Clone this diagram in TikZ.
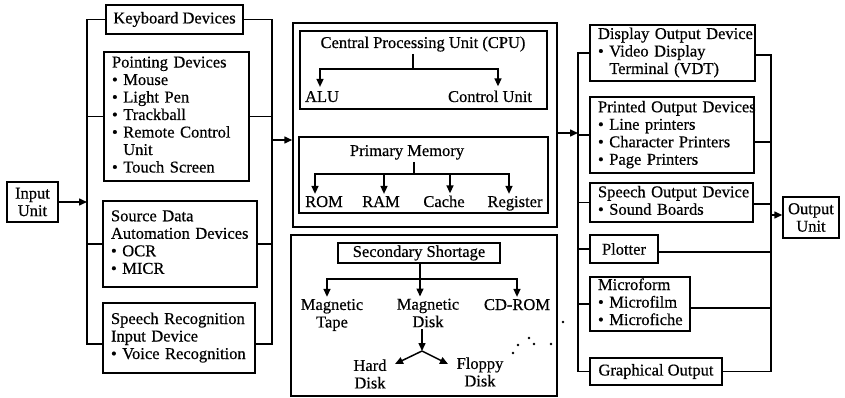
\documentclass[tikz,border=0pt]{standalone}
\usepackage{fontspec}
\setmainfont{Liberation Serif}[FakeBold=0.5]
\usetikzlibrary{arrows.meta}
% left-aligned block of lines that never wraps
\newcommand{\stack}[1]{\noindent\begin{tabular}{@{}l@{}}#1\end{tabular}}
\begin{document}
\begin{tikzpicture}[x=1pt,y=-1pt,
  every node/.style={font=\fontsize{16.5}{17.5}\selectfont},
  wire/.style={line width=1.5pt},
  arr/.style={wire,-{Triangle[length=8pt,width=7pt]}},
  box/.style={draw,line width=1.5pt,inner sep=0pt},
  lbox/.style={box,align=left,inner xsep=8pt},
  lab/.style={inner sep=2pt},
  dot/.style={fill=black}
]
\useasboundingbox (0,0) rectangle (845,398);
\fill[white] (0,0) rectangle (845,398);

% ---------------- input side ----------------
\node[box,minimum width=51pt,minimum height=40pt,align=center] (inp) at (32.5,202) {Input\\Unit};
\node[box,minimum width=137pt,minimum height=29pt] (kbd) at (174.5,19.5) {Keyboard Devices};
\node[lbox,text width=129pt,minimum height=129pt] (pd) at (176.5,116.5)
  {\stack{Pointing Devices\\• Mouse\\• Light Pen\\• Trackball\\• Remote Control\\\phantom{• }Unit\\• Touch Screen}};
\node[lbox,text width=138pt,minimum height=86pt] (sd) at (180,244)
  {\stack{Source Data\\Automation Devices\\• OCR\\• MICR}};
\node[lbox,text width=136pt,minimum height=70pt] (sr) at (179,338)
  {\stack{Speech Recognition\\Input Device\\• Voice Recognition}};

\coordinate (lb) at (87,0);
\coordinate (rb) at (272,0);
\draw[wire] (kbd.west) -- (kbd.west -| lb) |- ([yshift=-6pt]sr.west);
\draw[wire] (kbd.east) -- (kbd.east -| rb) |- ([yshift=-6pt]sr.east);
\foreach \n in {pd,sd} {
  \draw[wire] (\n.west) -- (\n.west -| lb);
  \draw[wire] (\n.east) -- (\n.east -| rb);
}
\draw[arr] (inp.east) -- (inp.east -| lb);

% ---------------- processing and memory ----------------
\node[box,minimum width=264pt,minimum height=204pt] (core) at (425,125) {};
\node[box,minimum width=247pt,minimum height=78pt] (cpubox) at (423.5,70) {};
\node[lab,anchor=base] (cpu) at (423,48) {Central Processing Unit (CPU)};
\node[lab,anchor=base] (alu) at (322,102) {ALU};
\node[lab,anchor=base] (cu) at (490,102) {Control Unit};
\coordinate (cpuj) at (413,69);
\draw[wire] (cpuj |- cpu.south) -- (cpuj);
\draw[arr,shorten >=2pt] (cpuj) -| ([xshift=-2pt]alu.north);
\draw[arr,shorten >=2pt] (cpuj) -| ([xshift=8pt]cu.north);

\node[box,minimum width=249pt,minimum height=76pt] (pmbox) at (423.5,175) {};
\node[lab,anchor=base] (pm) at (407,156) {Primary Memory};
\node[lab,anchor=base] (rom) at (324,207) {ROM};
\node[lab,anchor=base] (ram) at (381,207) {RAM};
\node[lab,anchor=base] (cache) at (444,207) {Cache};
\node[lab,anchor=base] (reg) at (515,207) {Register};
\coordinate (pmj) at (414,174);
\draw[wire] (pmj |- pm.south) -- (pmj);
\draw[arr] (pmj) -| ([xshift=-9pt]rom.north);
\draw[arr] (pmj) -| ([xshift=3pt]ram.north);
\draw[arr] (pmj) -| ([xshift=6pt]cache.north);
\draw[arr] (pmj) -| ([xshift=-6pt]reg.north);

% ---------------- secondary storage ----------------
\node[box,minimum width=266pt,minimum height=161pt] (store) at (424,315.5) {};
\node[box,minimum width=162pt,minimum height=20pt] (ss) at (419,253) {Secondary Shortage};
\node[lab,align=center] (mt) at (332,315) {Magnetic\\Tape};
\node[lab,align=center] (md) at (428,313) {Magnetic\\Disk};
\node[lab,anchor=base] (cd) at (517,310) {CD-ROM};
\coordinate (ssj) at (420,279);
\draw[wire] (ss.south -| ssj) -- (ssj);
\draw[arr] (ssj) -| ([xshift=-5pt]mt.north);
\draw[arr] (ssj) -- (ssj |- md.north);
\draw[arr] (ssj) -| (cd.north);

\node[lab,align=center] (hd) at (370,374) {Hard\\Disk};
\node[lab,align=center] (fd) at (480,372) {Floppy\\Disk};
\coordinate (fork) at (422,351);
\coordinate (hdtip) at (395,364);
\coordinate (fdtip) at (448,364);
\draw[arr] (fork |- md.south) -- (fork);
\draw[arr] (fork) -- (hdtip);
\draw[arr] (fork) -- (fdtip);
\foreach \p in {(513,353),(518,345),(529,338),(534,344),(551,344),(563,322)}
  \fill[dot] \p circle (1.3pt);

% ---------------- output side ----------------
\node[lbox,text width=149pt,minimum height=56pt] (dod) at (672.5,53)
  {\stack{Display Output Device\\• Video Display\\\phantom{• }Terminal (VDT)}};
\node[lbox,text width=148pt,minimum height=76pt] (pod) at (672,135)
  {\stack{Printed Output Devices\\• Line printers\\• Character Printers\\• Page Printers}};
\node[lbox,text width=147pt,minimum height=39pt] (sod) at (671.5,202.5)
  {\stack{Speech Output Device\\• Sound Boards}};
\node[box,minimum width=68pt,minimum height=28pt] (plt) at (624,249) {Plotter};
\node[lbox,text width=84pt,minimum height=54pt] (mf) at (640,304)
  {\stack{Microform\\• Microfilm\\• Microfiche}};
\node[box,minimum width=132pt,minimum height=27pt] (go) at (656,371.5) {Graphical Output};
\node[box,minimum width=56pt,minimum height=41pt,align=center] (ou) at (811,217.5) {Output\\Unit};

\coordinate (rl) at (578,0);
\coordinate (rr) at (771,0);
\draw[wire] (dod.west) -- (dod.west -| rl) |- (go.west);
\draw[wire] ([yshift=-2pt]dod.east) -- ([yshift=-2pt]dod.east -| rr) |- (go.east);
\foreach \n in {pod,sod,plt,mf}
  \draw[wire] (\n.west) -- (\n.west -| rl);
\draw[wire] ([yshift=-7pt]pod.east) -- ([yshift=-7pt]pod.east -| rr);
\draw[wire] ([yshift=-1.5pt]sod.east) -- ([yshift=-1.5pt]sod.east -| rr);
\draw[wire] ([yshift=-3pt]plt.east) -- ([yshift=-3pt]plt.east -| rr);
\draw[wire] ([yshift=-4pt]mf.east) -- ([yshift=-4pt]mf.east -| rr);

% ---------------- flow between the blocks ----------------
\coordinate (inj) at (272,140);
\coordinate (outj) at (578,133);
\coordinate (ouj) at (771,215);
\draw[arr] (inj) -- (inj -| core.west);
\draw[arr] (outj -| core.east) -- (outj);
\draw[arr] (ouj) -- (ouj -| ou.west);
\end{tikzpicture}
\end{document}
